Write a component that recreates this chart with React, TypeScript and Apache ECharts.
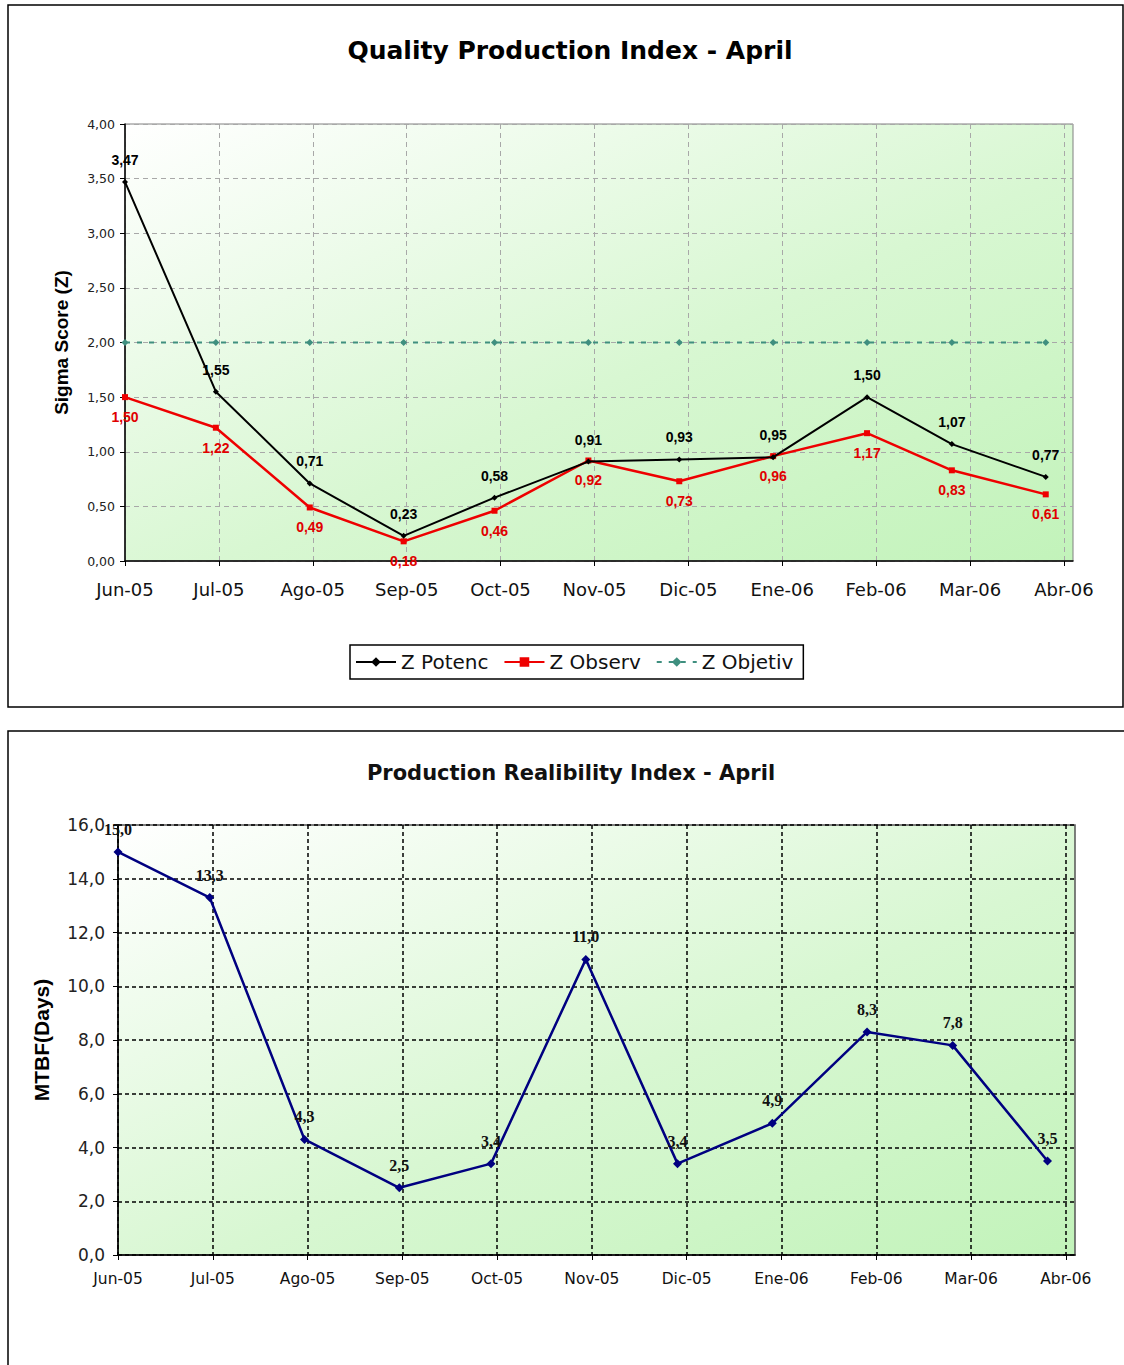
import React, { useEffect, useRef } from "react";
import * as echarts from "echarts";

// ---------- data ----------
const tickLabels = ["Jun-05", "Jul-05", "Ago-05", "Sep-05", "Oct-05", "Nov-05", "Dic-05", "Ene-06", "Feb-06", "Mar-06", "Abr-06"];
const pointDates = ["2005-06-01", "2005-07-01", "2005-08-01", "2005-09-01", "2005-10-01", "2005-11-01", "2005-12-01", "2006-01-01", "2006-02-01", "2006-03-01", "2006-04-01"];
const zPotenc = [3.47, 1.55, 0.71, 0.23, 0.58, 0.91, 0.93, 0.95, 1.5, 1.07, 0.77];
const zObserv = [1.5, 1.22, 0.49, 0.18, 0.46, 0.92, 0.73, 0.96, 1.17, 0.83, 0.61];
const zObjetiv = [2, 2, 2, 2, 2, 2, 2, 2, 2, 2, 2];
const mtbf = [15.0, 13.3, 4.3, 2.5, 3.4, 11.0, 3.4, 4.9, 8.3, 7.8, 3.5];

const TICK_STEP_DAYS = 31; // axis major unit (days)
const AXIS_MAX_DAYS = 313;

const dayOffset = (d: string) =>
  Math.round((Date.parse(d + "T00:00:00Z") - Date.parse(pointDates[0] + "T00:00:00Z")) / 86400000);
const xDays = pointDates.map(dayOffset);
const tickDays = tickLabels.map((_, i) => i * TICK_STEP_DAYS);

const pair = (vals: number[]) => vals.map((v, i) => [xDays[i], v]);
const comma = (v: number, d: number) => v.toFixed(d).replace(".", ",");

export default function App() {
  const ref = useRef<HTMLDivElement>(null);

  useEffect(() => {
    if (!ref.current) return;
    const chart = echarts.init(ref.current, null, { renderer: "svg" });

    const makeGradient = () =>
      new echarts.graphic.LinearGradient(0, 0, 1, 1, [
        { offset: 0, color: "#ffffff" },
        { offset: 0.55, color: "#d8f7d2" },
        { offset: 1, color: "#c2f3ba" },
      ]);

    const xAxisBase = (gridIndex: number, fontSize: number, margin: number, splitColor: string, splitWidth: number, dash: number[]) => ({
      type: "value",
      gridIndex,
      min: 0,
      max: AXIS_MAX_DAYS,
      interval: TICK_STEP_DAYS,
      axisLine: { lineStyle: { color: "#000", width: 1.5 } },
      axisTick: { show: true, length: 5, lineStyle: { color: "#000" }, customValues: tickDays },
      axisLabel: {
        customValues: tickDays,
        formatter: (v: number) => (v % TICK_STEP_DAYS === 0 ? tickLabels[v / TICK_STEP_DAYS] ?? "" : ""),
        color: "#111",
        fontFamily: "DejaVu Sans",
        fontSize,
        margin,
        showMaxLabel: true,
      },
      splitLine: { show: true, lineStyle: { color: splitColor, width: splitWidth, type: dash } },
    });

    const option: any = {
      animation: false,
      backgroundColor: "#ffffff",
      graphic: [
        { type: "rect", shape: { x: 8, y: 5, width: 1115, height: 702 }, style: { fill: "none", stroke: "#000", lineWidth: 1.5 } },
        { type: "rect", shape: { x: 8, y: 731, width: 1125, height: 700 }, style: { fill: "none", stroke: "#000", lineWidth: 1.5 } },
        {
          type: "text",
          x: 570,
          y: 50,
          style: { text: "Quality Production Index - April", fontFamily: "DejaVu Sans", fontWeight: "bold", fontSize: 25, fill: "#000", textAlign: "center", textVerticalAlign: "middle" },
        },
        {
          type: "text",
          x: 571,
          y: 773,
          style: { text: "Production Realibility Index - April", fontFamily: "DejaVu Sans", fontWeight: "bold", fontSize: 21, fill: "#111", textAlign: "center", textVerticalAlign: "middle" },
        },
      ],
      legend: {
        left: 350,
        top: 645,
        orient: "horizontal",
        data: ["Z Potenc", "Z Observ", "Z Objetiv"],
        borderColor: "#000",
        borderWidth: 1.5,
        padding: [7, 10, 7, 5],
        itemWidth: 40,
        itemHeight: 12,
        itemGap: 15,
        textStyle: { fontFamily: "DejaVu Sans", fontSize: 20, color: "#111", padding: [0, 0, 0, 0] },
      },
      grid: [
        { left: 125, top: 124, width: 948, height: 437, show: true, backgroundColor: makeGradient(), borderColor: "#808080", borderWidth: 1 },
        { left: 118, top: 825, width: 957, height: 430, show: true, backgroundColor: makeGradient(), borderColor: "#555", borderWidth: 1.5 },
      ],
      xAxis: [
        xAxisBase(0, 18, 19, "#a8a8a8", 1, [5, 4]),
        xAxisBase(1, 15.5, 16, "#000", 1.5, [4, 3]),
      ],
      yAxis: [
        {
          type: "value",
          gridIndex: 0,
          min: 0,
          max: 4,
          interval: 0.5,
          name: "Sigma Score (Z)",
          nameLocation: "middle",
          nameGap: 54,
          nameTextStyle: { fontFamily: "Liberation Sans", fontWeight: "bold", fontSize: 19, color: "#000" },
          axisLine: { show: true, lineStyle: { color: "#000", width: 1.5 } },
          axisTick: { show: true, length: 5, lineStyle: { color: "#000" } },
          axisLabel: { formatter: (v: number) => comma(v, 2), fontFamily: "DejaVu Sans", fontSize: 12.5, color: "#222", margin: 10 },
          splitLine: { show: true, lineStyle: { color: "#a8a8a8", width: 1, type: [5, 4] } },
        },
        {
          type: "value",
          gridIndex: 1,
          min: 0,
          max: 16,
          interval: 2,
          name: "MTBF(Days)",
          nameLocation: "middle",
          nameGap: 66,
          nameTextStyle: { fontFamily: "Liberation Sans", fontWeight: "bold", fontSize: 21, color: "#000" },
          axisLine: { show: true, lineStyle: { color: "#000", width: 1.5 } },
          axisTick: { show: true, length: 5, lineStyle: { color: "#000" } },
          axisLabel: { formatter: (v: number) => comma(v, 1), fontFamily: "DejaVu Sans", fontSize: 17, color: "#222", margin: 13 },
          splitLine: { show: true, lineStyle: { color: "#000", width: 1.5, type: [4, 3] } },
        },
      ],
      series: [
        {
          name: "Z Objetiv",
          type: "line",
          xAxisIndex: 0,
          yAxisIndex: 0,
          data: pair(zObjetiv),
          symbol: "diamond",
          symbolSize: 7,
          itemStyle: { color: "#3f8f7f" },
          lineStyle: { color: "#3f8f7f", width: 2, type: [5, 7] },
          z: 2,
        },
        {
          name: "Z Observ",
          type: "line",
          xAxisIndex: 0,
          yAxisIndex: 0,
          data: pair(zObserv),
          symbol: "rect",
          symbolSize: 6,
          itemStyle: { color: "#ee0000" },
          lineStyle: { color: "#ee0000", width: 2.5 },
          label: {
            show: true,
            position: "bottom",
            distance: 10,
            formatter: (p: any) => comma(p.value[1], 2),
            fontFamily: "Liberation Sans",
            fontWeight: "bold",
            fontSize: 14,
            color: "#e00000",
          },
          z: 3,
        },
        {
          name: "Z Potenc",
          type: "line",
          xAxisIndex: 0,
          yAxisIndex: 0,
          data: pair(zPotenc),
          symbol: "diamond",
          symbolSize: 6,
          itemStyle: { color: "#000" },
          lineStyle: { color: "#000", width: 2 },
          label: {
            show: true,
            position: "top",
            distance: 12,
            formatter: (p: any) => comma(p.value[1], 2),
            fontFamily: "Liberation Sans",
            fontWeight: "bold",
            fontSize: 14,
            color: "#000",
          },
          z: 4,
        },
        {
          name: "MTBF",
          type: "line",
          xAxisIndex: 1,
          yAxisIndex: 1,
          data: pair(mtbf),
          symbol: "diamond",
          symbolSize: 9,
          itemStyle: { color: "#000080" },
          lineStyle: { color: "#000080", width: 2.5 },
          label: {
            show: true,
            position: "top",
            distance: 10,
            formatter: (p: any) => comma(p.value[1], 1),
            fontFamily: "Liberation Serif",
            fontWeight: "bold",
            fontSize: 16,
            color: "#111",
          },
          z: 4,
        },
      ],
    };

    chart.setOption(option);
    return () => chart.dispose();
  }, []);

  return <div ref={ref} style={{ position: "absolute", left: 0, top: 0, width: 1124, height: 1365 }} />;
}
